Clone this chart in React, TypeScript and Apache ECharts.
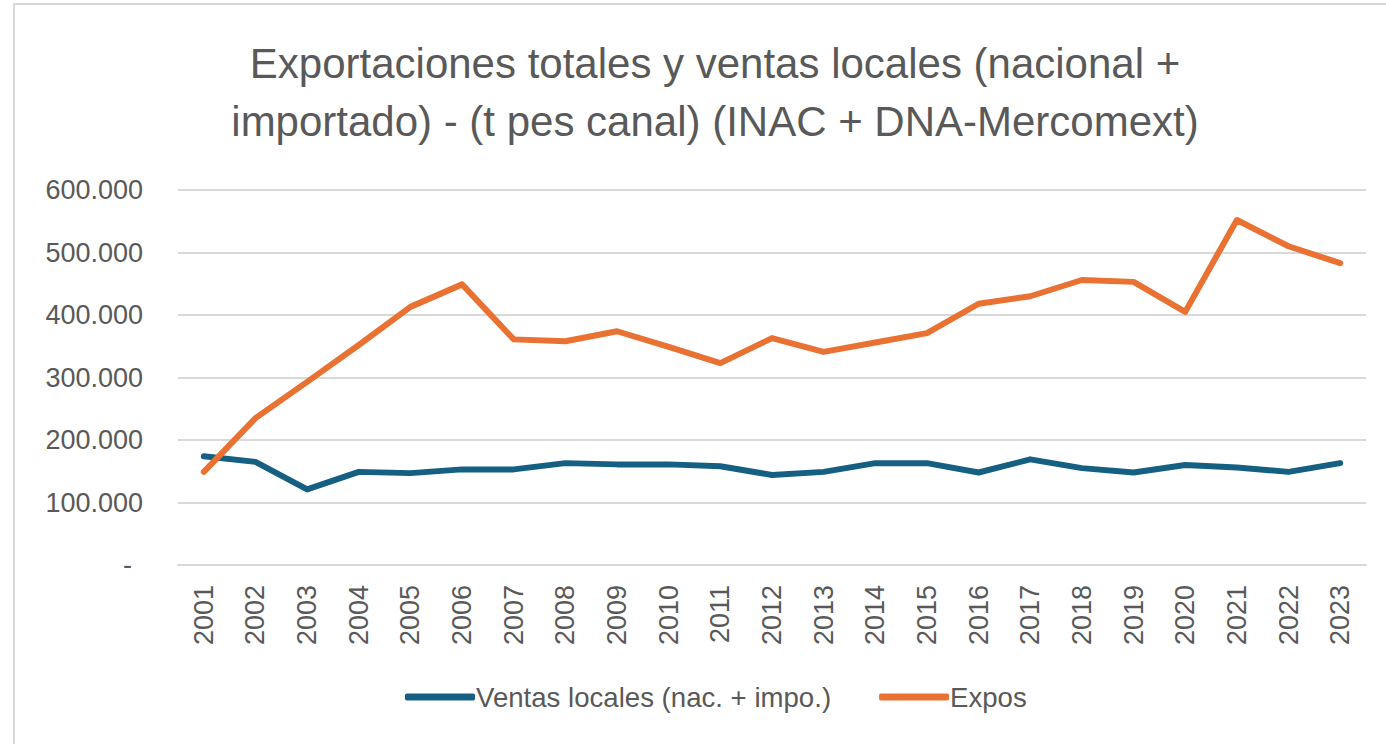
import React, { useEffect, useRef } from "react";
import * as echarts from "echarts";

const years = ["2001","2002","2003","2004","2005","2006","2007","2008","2009","2010","2011","2012","2013","2014","2015","2016","2017","2018","2019","2020","2021","2022","2023"];
const ventasLocales = [174000,165000,121000,149000,147000,153000,153000,163000,161000,161000,158000,144000,149000,163000,163000,148000,169000,155000,148000,160000,156000,149000,163000];
const expos = [149000,235000,293000,352000,413000,449000,361000,358000,374000,349000,323000,363000,341000,356000,371000,418000,430000,456000,453000,405000,552000,510000,483000];
const titleLines = ["Exportaciones totales y ventas locales (nacional +", "importado) - (t pes canal) (INAC + DNA-Mercomext)"];
const seriesNames = ["Ventas locales (nac. + impo.)", "Expos"];
const yTicks = { min: 0, max: 600000, interval: 100000 };

const sans = "'Liberation Sans', Arial, sans-serif";
const textGray = "#595959";
const gridGray = "#d9d9d9";

function fmt(v: number): string {
  return String(v).replace(/\B(?=(\d{3})+(?!\d))/g, ".");
}

export default function App() {
  const ref = useRef<HTMLDivElement>(null);
  useEffect(() => {
    if (!ref.current) return;
    const chart = echarts.init(ref.current, null, { renderer: "svg" });
    chart.setOption({
      animation: false,
      backgroundColor: "#ffffff",
      title: {
        text: titleLines.join("\n"),
        left: 710,
        top: 29,
        textAlign: "center",
        textStyle: {
          fontFamily: sans,
          fontSize: 42,
          fontWeight: "normal",
          color: textGray,
          lineHeight: 58,
        },
      },
      legend: {
        left: 400,
        top: 678,
        itemWidth: 70,
        itemHeight: 7,
        itemGap: 48,
        icon: "roundRect",
        textStyle: { fontFamily: sans, fontSize: 27.6, color: textGray, padding: [0, 0, 0, -4] },
        data: seriesNames,
      },
      graphic: [
        {
          type: "rect",
          shape: { x: 14, y: 4, width: 1500, height: 900 },
          style: { fill: "none", stroke: gridGray, lineWidth: 2 },
          silent: true,
          z: -1,
        },
      ],
      grid: { left: 178, right: 20, top: 190, bottom: 179, containLabel: false },
      xAxis: {
        type: "category",
        data: years,
        boundaryGap: true,
        axisTick: { show: false },
        axisLine: { lineStyle: { color: gridGray, width: 2 } },
        axisLabel: {
          rotate: 90,
          margin: 20,
          fontFamily: sans,
          fontSize: 27,
          color: textGray,
          interval: 0,
        },
      },
      yAxis: {
        type: "value",
        min: yTicks.min,
        max: yTicks.max,
        interval: yTicks.interval,
        axisLine: { show: false },
        axisTick: { show: false },
        splitLine: { lineStyle: { color: gridGray, width: 2 } },
        axisLabel: {
          margin: 35,
          fontFamily: sans,
          fontSize: 27,
          color: textGray,
          formatter: (v: number) => (v === 0 ? "{z|-}" : fmt(v)),
          rich: { z: { fontFamily: sans, fontSize: 27, color: textGray, padding: [0, 11, 0, 0] } },
        },
      },
      series: [
        {
          name: seriesNames[0],
          type: "line",
          data: ventasLocales,
          symbol: "none",
          color: "#156082",
          lineStyle: { width: 6, color: "#156082", cap: "round", join: "round" },
        },
        {
          name: seriesNames[1],
          type: "line",
          data: expos,
          symbol: "none",
          color: "#E97132",
          lineStyle: { width: 6, color: "#E97132", cap: "round", join: "round" },
        },
      ],
    });
    return () => chart.dispose();
  }, []);
  return (
    <div
      ref={ref}
      style={{ position: "fixed", left: 0, top: 0, width: 1386, height: 744 }}
    />
  );
}
